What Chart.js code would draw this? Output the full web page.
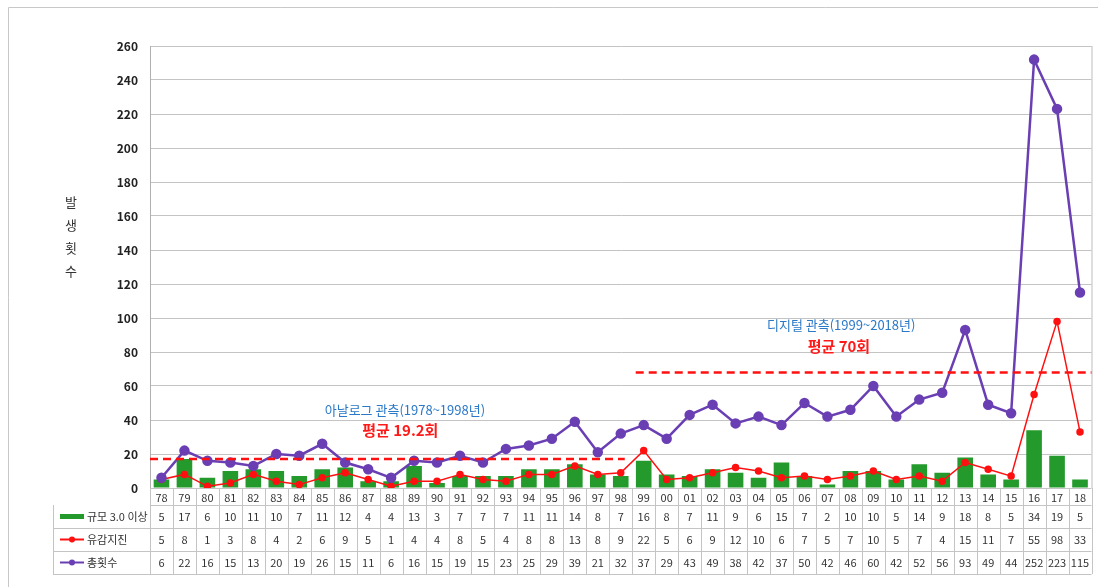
<!DOCTYPE html>
<html lang="ko">
<head>
    <meta charset="UTF-8">
    <title>지진 발생횟수</title>
    <script src="https://cdn.jsdelivr.net/npm/chart.js"></script>
    <style>
        body {
            margin: 0;
            padding: 0;
            background: #fff;
        }
        .wrap {
            width: 1098px;
            height: 587px;
            position: relative;
        }
    </style>
</head>
<body>
<div class="wrap">
    <canvas id="quakeChart"></canvas>
</div>

<script>
    const years = ['78','79','80','81','82','83','84','85','86','87','88','89','90','91','92','93','94','95','96','97','98',
                   '99','00','01','02','03','04','05','06','07','08','09','10','11','12','13','14','15','16','17','18'];
    const mag3 = [5,17,6,10,11,10,7,11,12,4,4,13,3,7,7,7,11,11,14,8,7,
                  16,8,7,11,9,6,15,7,2,10,10,5,14,9,18,8,5,34,19,5];
    const felt = [5,8,1,3,8,4,2,6,9,5,1,4,4,8,5,4,8,8,13,8,9,
                  22,5,6,9,12,10,6,7,5,7,10,5,7,4,15,11,7,55,98,33];
    const total = [6,22,16,15,13,20,19,26,15,11,6,16,15,19,15,23,25,29,39,21,32,
                   37,29,43,49,38,42,37,50,42,46,60,42,52,56,93,49,44,252,223,115];
    const yTicks = [0,20,40,60,80,100,120,140,160,180,200,220,240,260];
    const seriesNames = ['규모 3.0 이상', '유감지진', '총횟수'];
    // average lines (level as drawn in the picture) and period labels
    const avgLevels = [17, 68];
    const periodLabels = ['아날로그 관측(1978~1998년)', '디지털 관측(1999~2018년)'];
    const avgLabels = ['평균 19.2회', '평균 70회'];

    const GREEN = '#239a2b';
    const RED = '#ff1010';
    const PURPLE = '#6a3fb3';
    const FONT = "'Noto Sans CJK KR', 'Noto Sans', sans-serif";

    const extras = {
        id: 'extras',
        afterDraw(chart) {
            const ctx = chart.ctx;
            const area = chart.chartArea;
            const x = chart.scales.x;
            const y = chart.scales.y;
            const w = (area.right - area.left) / years.length;
            ctx.save();

            // outer frame
            ctx.strokeStyle = '#c8c8c8';
            ctx.lineWidth = 1;
            ctx.beginPath();
            ctx.moveTo(8.5, 587);
            ctx.lineTo(8.5, 7.5);
            ctx.lineTo(1098, 7.5);
            ctx.stroke();

            // plot right border
            ctx.strokeStyle = '#bdbdbd';
            ctx.beginPath();
            ctx.moveTo(area.right + 0.5, area.top);
            ctx.lineTo(area.right + 0.5, area.bottom);
            ctx.stroke();

            // average dashed lines
            ctx.strokeStyle = RED;
            ctx.lineWidth = 2.5;
            ctx.setLineDash([8, 5]);
            let ya = y.getPixelForValue(avgLevels[0]);
            ctx.beginPath();
            ctx.moveTo(area.left, ya);
            ctx.lineTo(x.getPixelForValue(20) + 4, ya);
            ctx.stroke();
            ya = y.getPixelForValue(avgLevels[1]);
            ctx.beginPath();
            ctx.moveTo(x.getPixelForValue(21) - 8, ya);
            ctx.lineTo(area.right, ya);
            ctx.stroke();
            ctx.setLineDash([]);

            // period texts
            ctx.textAlign = 'center';
            ctx.textBaseline = 'middle';
            ctx.fillStyle = '#2a78c8';
            ctx.font = '13px ' + FONT;
            ctx.fillText(periodLabels[0], x.getPixelForValue(10.6), y.getPixelForValue(46));
            ctx.fillText(periodLabels[1], x.getPixelForValue(29.6), y.getPixelForValue(96));
            ctx.fillStyle = '#ff1a1a';
            ctx.font = 'bold 15px ' + FONT;
            ctx.fillText(avgLabels[0], x.getPixelForValue(10.4), y.getPixelForValue(34));
            ctx.fillText(avgLabels[1], x.getPixelForValue(29.5), y.getPixelForValue(83.5));

            // y axis title, stacked characters
            ctx.fillStyle = '#333';
            ctx.font = '13px ' + FONT;
            const title = '발생횟수';
            for (let i = 0; i < title.length; i++) {
                ctx.fillText(title[i], 71, 202 + i * 23);
            }

            // data table below the plot
            const top = area.bottom;
            const rows = [top, top + 17, top + 40, top + 63, top + 86];
            const tableLeft = 53;
            ctx.strokeStyle = '#c4c4c4';
            ctx.lineWidth = 1;
            ctx.beginPath();
            for (let i = 1; i < rows.length; i++) {
                ctx.moveTo(i === 1 ? area.left : tableLeft, rows[i] + 0.5);
                ctx.lineTo(area.right, rows[i] + 0.5);
            }
            for (let i = 0; i <= years.length; i++) {
                const xx = Math.round(area.left + i * w) + 0.5;
                ctx.moveTo(xx, rows[0]);
                ctx.lineTo(xx, rows[4]);
            }
            ctx.moveTo(tableLeft + 0.5, rows[1]);
            ctx.lineTo(tableLeft + 0.5, rows[4]);
            ctx.stroke();

            ctx.fillStyle = '#333';
            ctx.font = '11px ' + FONT;
            const tableData = [mag3, felt, total];
            years.forEach((yr, i) => {
                const cx = area.left + (i + 0.5) * w;
                ctx.fillText(yr, cx, (rows[0] + rows[1]) / 2 + 1);
                tableData.forEach((arr, r) => {
                    ctx.fillText(String(arr[i]), cx, (rows[r + 1] + rows[r + 2]) / 2);
                });
            });

            // legend keys in the table
            ctx.textAlign = 'left';
            const keyColors = [GREEN, RED, PURPLE];
            seriesNames.forEach((name, r) => {
                const cy = (rows[r + 1] + rows[r + 2]) / 2;
                ctx.strokeStyle = keyColors[r];
                ctx.lineWidth = r === 0 ? 5 : 2;
                ctx.beginPath();
                ctx.moveTo(60, cy);
                ctx.lineTo(84, cy);
                ctx.stroke();
                if (r > 0) {
                    ctx.fillStyle = keyColors[r];
                    ctx.beginPath();
                    ctx.arc(72, cy, 3, 0, Math.PI * 2);
                    ctx.fill();
                }
                ctx.fillStyle = '#333';
                ctx.fillText(name, 87, cy);
            });

            ctx.restore();
        }
    };

    new Chart(document.getElementById('quakeChart'), {
        type: 'bar',
        data: {
            labels: years,
            datasets: [
                {
                    type: 'line',
                    label: seriesNames[2],
                    data: total,
                    borderColor: PURPLE,
                    backgroundColor: PURPLE,
                    borderWidth: 2.5,
                    pointRadius: 4,
                    tension: 0,
                    order: 1
                },
                {
                    type: 'line',
                    label: seriesNames[1],
                    data: felt,
                    borderColor: RED,
                    backgroundColor: RED,
                    borderWidth: 1.5,
                    pointRadius: 3,
                    tension: 0,
                    order: 2
                },
                {
                    label: seriesNames[0],
                    data: mag3,
                    backgroundColor: GREEN,
                    barPercentage: 0.68,
                    categoryPercentage: 1,
                    order: 3
                }
            ]
        },
        options: {
            responsive: true,
            maintainAspectRatio: false,
            animation: false,
            layout: {
                padding: { left: 0, right: 5, top: 46, bottom: 99 }
            },
            plugins: {
                legend: { display: false },
                tooltip: { enabled: false }
            },
            scales: {
                x: {
                    display: false
                },
                y: {
                    min: 0,
                    max: 260,
                    afterFit(scale) { scale.width = 150; },
                    afterBuildTicks(scale) {
                        scale.ticks = yTicks.map(v => ({ value: v }));
                    },
                    ticks: {
                        color: '#222',
                        padding: 12,
                        font: { family: FONT, size: 12, weight: 'bold' }
                    },
                    grid: {
                        color: '#c4c4c4',
                        drawTicks: false
                    },
                    border: { color: '#b0b0b0' }
                }
            }
        },
        plugins: [extras]
    });
</script>
</body>
</html>
